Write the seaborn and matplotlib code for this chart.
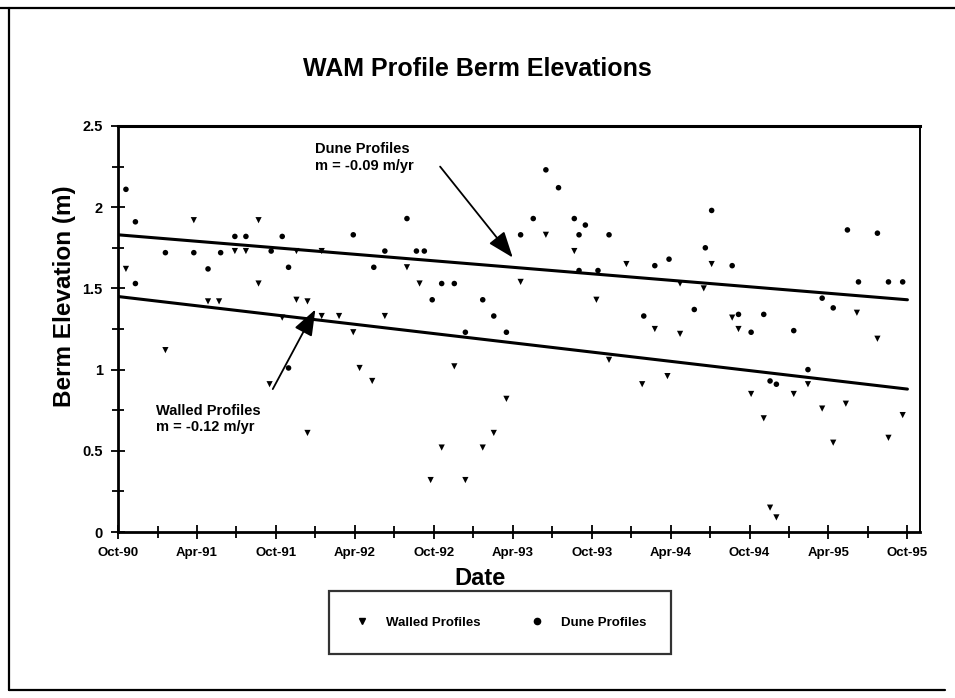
import numpy as np
import pandas as pd
import matplotlib.pyplot as plt
import seaborn as sns
from matplotlib.lines import Line2D
from matplotlib.ticker import FixedLocator, MultipleLocator

sns.set_style("white")
plt.rcParams["font.family"] = ["Liberation Sans", "DejaVu Sans"]
plt.rcParams["text.color"] = "black"
plt.rcParams["axes.labelcolor"] = "black"
plt.rcParams["xtick.color"] = "black"
plt.rcParams["ytick.color"] = "black"

# --- data (decimal year, metres) ---
walled_x = [1991.23, 1991.64, 1991.49, 1991.56, 1991.88, 1992.04, 1990.80, 1991.64,
            1991.32, 1991.39, 1991.88, 1991.95, 1991.79, 1992.04, 1992.15, 1991.05,
            1992.24, 1992.28, 1992.36, 1991.71, 1991.95,
            1993.46, 1993.64, 1993.97, 1992.58, 1992.66, 1993.30, 1993.78, 1992.44,
            1993.86, 1992.88, 1994.07, 1993.21, 1993.13, 1992.80, 1993.06, 1992.73,
            1992.95,
            1994.51, 1994.31, 1994.46, 1995.43, 1994.64, 1994.15, 1994.68, 1994.31,
            1995.56, 1994.23, 1995.12, 1994.76, 1995.03, 1995.36, 1995.21, 1995.72,
            1994.84, 1995.28, 1995.63, 1994.88, 1994.92]
walled_y = [1.92, 1.92, 1.73, 1.73, 1.73, 1.73, 1.62, 1.53,
            1.42, 1.42, 1.43, 1.42, 1.32, 1.33, 1.33, 1.12,
            1.23, 1.01, 0.93, 0.91, 0.61,
            1.83, 1.73, 1.65, 1.63, 1.53, 1.54, 1.43, 1.33,
            1.06, 1.02, 0.91, 0.82, 0.61, 0.52, 0.52, 0.32,
            0.32,
            1.65, 1.53, 1.50, 1.35, 1.32, 1.25, 1.25, 1.22,
            1.19, 0.96, 0.91, 0.85, 0.85, 0.79, 0.76, 0.72,
            0.70, 0.55, 0.58, 0.15, 0.09]

dune_x = [1990.80, 1990.86, 1991.49, 1991.56, 1991.79, 1992.24, 1991.05, 1991.23,
          1991.40, 1991.72, 1991.32, 1991.83, 1992.37, 1990.86, 1991.83,
          1992.58, 1993.46, 1993.54, 1993.38, 1993.64, 1993.71, 1993.30, 1993.67,
          1993.86, 1992.44, 1992.64, 1992.69, 1992.80, 1992.88, 1993.67, 1993.79,
          1992.74, 1993.06, 1993.13, 1994.08, 1992.95, 1993.21,
          1994.51, 1995.37, 1995.56, 1994.47, 1994.24, 1994.15, 1994.64, 1995.44,
          1995.63, 1995.72, 1995.21, 1995.28, 1994.40, 1994.68, 1994.84, 1994.76,
          1995.03, 1995.12, 1994.88, 1994.92]
dune_y = [2.11, 1.91, 1.82, 1.82, 1.82, 1.83, 1.72, 1.72,
          1.72, 1.73, 1.62, 1.63, 1.63, 1.53, 1.01,
          1.93, 2.23, 2.12, 1.93, 1.93, 1.89, 1.83, 1.83,
          1.83, 1.73, 1.73, 1.73, 1.53, 1.53, 1.61, 1.61,
          1.43, 1.43, 1.33, 1.33, 1.23, 1.23,
          1.98, 1.86, 1.84, 1.75, 1.68, 1.64, 1.64, 1.54,
          1.54, 1.54, 1.44, 1.38, 1.37, 1.34, 1.34, 1.23,
          1.24, 1.00, 0.93, 0.91]

# trend lines (start Oct-90, end Oct-95)
fit_x = [1990.75, 1995.75]
dune_fit = [1.83, 1.43]
walled_fit = [1.45, 0.88]

tick_pos = [1990.75, 1991.25, 1991.75, 1992.25, 1992.75, 1993.25,
            1993.75, 1994.25, 1994.75, 1995.25, 1995.75]
tick_labels = ["Oct-90", "Apr-91", "Oct-91", "Apr-92", "Oct-92", "Apr-93",
               "Oct-93", "Apr-94", "Oct-94", "Apr-95", "Oct-95"]
y_ticks = [0, 0.5, 1, 1.5, 2, 2.5]
y_labels = ["0", "0.5", "1", "1.5", "2", "2.5"]

walled = pd.DataFrame({"x": walled_x, "y": walled_y})
dune = pd.DataFrame({"x": dune_x, "y": dune_y})

fig = plt.figure(figsize=(9.55, 6.98), dpi=100)
ax = fig.add_axes([0.1236, 0.2378, 0.8398, 0.5817])

sns.scatterplot(data=walled, x="x", y="y", marker="v", s=20, color="black",
                edgecolor="none", ax=ax)
sns.scatterplot(data=dune, x="x", y="y", marker="o", s=16, color="black",
                edgecolor="none", ax=ax)
sns.lineplot(x=fit_x, y=dune_fit, color="black", lw=2.2, ax=ax)
sns.lineplot(x=fit_x, y=walled_fit, color="black", lw=2.2, ax=ax)

ax.set_xlim(1990.75, 1995.83)
ax.set_ylim(0, 2.5)
ax.xaxis.set_major_locator(FixedLocator(tick_pos))
ax.set_xticklabels(tick_labels, fontweight="bold", fontsize=9.5)
ax.xaxis.set_minor_locator(MultipleLocator(0.25))
ax.set_yticks(y_ticks)
ax.set_yticklabels(y_labels, fontweight="bold", fontsize=10.5)
ax.yaxis.set_minor_locator(MultipleLocator(0.25))
ax.tick_params(axis="both", which="both", direction="inout", color="black",
               width=1.3, length=10, pad=6, bottom=True, left=True)
ax.tick_params(axis="both", which="minor", length=8)

for side, lw in [("left", 2.0), ("bottom", 2.0), ("top", 2.2), ("right", 1.4)]:
    ax.spines[side].set_visible(True)
    ax.spines[side].set_color("black")
    ax.spines[side].set_linewidth(lw)

ax.set_xlabel("Date", fontsize=17, fontweight="bold")
ax.set_ylabel("Berm Elevation (m)", fontsize=17.5, fontweight="bold")
ax.xaxis.set_label_coords(0.451, -0.085)
ax.yaxis.set_label_coords(-0.052, 0.58)

fig.suptitle("WAM Profile Berm Elevations", x=0.5, y=0.918, fontsize=18,
             fontweight="bold")

# annotations
ax.annotate("Dune Profiles\nm = -0.09 m/yr", xy=(1993.25, 1.70), xytext=(1992.0, 2.40),
            fontsize=10.5, fontweight="bold", va="top", ha="left",
            linespacing=1.25)
ax.annotate("", xy=(1993.25, 1.69), xytext=(1992.79, 2.25),
            arrowprops=dict(arrowstyle="-|>,head_length=1.6,head_width=0.6",
                            color="black", lw=1.3, shrinkA=0, shrinkB=0))
ax.annotate("Walled Profiles\nm = -0.12 m/yr", xy=(1991.99, 1.37), xytext=(1990.99, 0.79),
            fontsize=10.5, fontweight="bold", va="top", ha="left",
            linespacing=1.25)
ax.annotate("", xy=(1992.0, 1.37), xytext=(1991.73, 0.88),
            arrowprops=dict(arrowstyle="-|>,head_length=1.6,head_width=0.6",
                            color="black", lw=1.3, shrinkA=0, shrinkB=0))

# legend
handles = [Line2D([], [], marker="v", ls="none", color="black", markersize=5),
           Line2D([], [], marker="o", ls="none", color="black", markersize=4.5)]
leg = ax.legend(handles, ["Walled Profiles", "Dune Profiles"], ncol=2,
                loc="center", bbox_to_anchor=(0.338, 0.0616, 0.372, 0.093),
                bbox_transform=fig.transFigure, mode="expand", frameon=True,
                fancybox=False, borderpad=1.9, handlelength=1.2, handletextpad=1.2,
                prop={"weight": "bold", "size": 9.5})
leg.get_frame().set_edgecolor("black")
leg.get_frame().set_linewidth(1.6)

# outer page frame
fig.add_artist(Line2D([0.0, 1.0], [0.988, 0.988], color="black", lw=1.6))
fig.add_artist(Line2D([0.009, 0.009], [0.012, 0.988], color="black", lw=1.6))
fig.add_artist(Line2D([0.009, 0.99], [0.012, 0.012], color="black", lw=1.6))

fig.savefig("out.png", dpi=100)
